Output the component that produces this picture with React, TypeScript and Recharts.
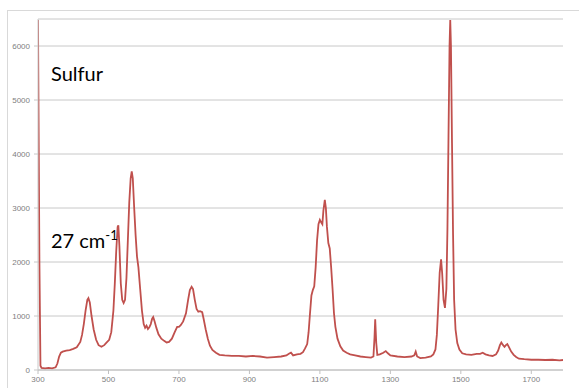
import React from "react";
import { LineChart, Line, XAxis, YAxis, CartesianGrid } from "recharts";

const wavenumbers = [
  300, 304, 307, 310, 320, 330, 340, 350, 355, 360, 365, 370, 380, 390, 400, 410, 420, 425, 430, 435, 440, 443, 447, 452, 458, 465, 472, 480, 488, 495,
  502, 508, 514, 518, 522, 526, 528, 531, 535, 539, 543, 547, 551, 555, 559, 563, 566, 569, 573, 577, 581, 585, 590, 595, 600, 604, 608, 612, 616, 620,
  624, 627, 631, 636, 642, 650, 658, 665, 672, 680, 688, 695, 700, 705, 712, 720, 726, 731, 736, 740, 745, 750, 755, 760, 766, 770, 776, 782, 788, 795,
  805, 815, 830, 850, 870, 890, 910, 930, 950, 970, 990, 1005, 1012, 1018, 1024, 1035, 1045, 1052, 1058, 1064, 1068, 1072, 1076, 1080, 1084, 1088, 1092,
  1096, 1100, 1104, 1107, 1110, 1114, 1117, 1120, 1124, 1128, 1132, 1136, 1140, 1144, 1150, 1158, 1166, 1176, 1186, 1200, 1215, 1230, 1245, 1252, 1255,
  1257, 1260, 1263, 1270, 1280, 1287, 1293, 1300, 1320, 1340, 1360, 1368, 1372, 1376, 1385, 1400, 1415, 1422, 1428, 1432, 1436, 1440, 1444, 1447, 1451,
  1455, 1459, 1462, 1465, 1468, 1470, 1472, 1475, 1478, 1481, 1485, 1490, 1496, 1504, 1515, 1530, 1545, 1555, 1562, 1570, 1580, 1590, 1600, 1606, 1611,
  1615, 1620, 1624, 1628, 1632, 1637, 1643, 1650, 1657, 1665, 1680, 1700, 1720, 1740, 1760, 1780, 1790,
];

const intensities = [
  6480, 2000, 80, 40, 30, 40, 30, 50, 120, 250, 320, 340, 360, 370, 390, 420, 520, 650, 850, 1100, 1300, 1330, 1250, 1000, 750, 560, 460, 430, 460, 510,
  560, 700, 1100, 1600, 2200, 2650, 2680, 2300, 1600, 1300, 1240, 1300, 1700, 2400, 3100, 3550, 3680, 3550, 3000, 2500, 2100, 1900, 1500, 1100, 850, 780, 820, 760, 790, 850,
  950, 980, 900, 780, 660, 580, 540, 510, 520, 580, 700, 800, 800, 830, 900, 1050, 1300, 1480, 1540, 1500, 1300, 1130, 1080, 1090, 1070, 950, 750, 580, 450, 370,
  320, 280, 270, 260, 260, 250, 260, 250, 230, 240, 250, 270, 300, 320, 270, 290, 300, 330, 400, 480, 700, 1050, 1380, 1480, 1550, 1900, 2400,
  2700, 2780, 2730, 2700, 2950, 3150, 3000, 2650, 2350, 2250, 1900, 1500, 1050, 800, 580, 440, 360, 320, 290, 270, 250, 240, 230, 250, 600,
  940, 500, 280, 290, 320, 350, 310, 270, 250, 240, 250, 270, 340, 250, 220, 230, 250, 290, 380, 650, 1200, 1800, 2050, 1800, 1300,
  1150, 1500, 2600, 4300, 6000, 6480, 6000, 4200, 2500, 1300, 750, 500, 380, 310, 290, 280, 300, 300, 320, 290, 270, 260, 290, 360, 460,
  510, 460, 430, 460, 480, 420, 340, 280, 240, 210, 200, 190, 190, 185, 190, 180, 185,
];

const xTicks = [300, 500, 700, 900, 1100, 1300, 1500, 1700];
const yTicks = [0, 1000, 2000, 3000, 4000, 5000, 6000];

const data = wavenumbers.map((x, i) => ({ x, y: intensities[i] }));

const tickStyle = { fontSize: 8, fill: "#808080", fontFamily: "Liberation Sans" };

export default function App() {
  return (
    <div style={{ position: "absolute", left: 0, top: 0, width: 579, height: 388, overflow: "hidden", background: "#fff" }}>
      <div
        style={{
          position: "absolute",
          left: 7,
          top: 10,
          width: 600,
          height: 400,
          border: "1px solid #d9d9d9",
          boxSizing: "border-box",
        }}
      />
      <div style={{ position: "absolute", left: 0, top: 0 }}>
        <LineChart width={579} height={388} data={data} margin={{ top: 19, right: 16, bottom: 0, left: 8 }}>
          <CartesianGrid vertical={false} stroke="#c8c8c8" strokeWidth={1} />
          <XAxis
            dataKey="x"
            type="number"
            domain={[300, 1790]}
            ticks={xTicks}
            allowDataOverflow
            height={18}
            tickSize={4}
            tickMargin={2}
            stroke="#c0c0c0"
            tick={tickStyle}
            interval={0}
          />
          <YAxis
            type="number"
            domain={[0, 6500]}
            ticks={yTicks}
            width={30}
            tickSize={4}
            tickMargin={4}
            stroke="#c8c8c8"
            tick={tickStyle}
            interval={0}
          />
          <Line
            type="linear"
            dataKey="y"
            stroke="#c0504d"
            strokeWidth={1.8}
            dot={false}
            isAnimationActive={false}
          />
        </LineChart>
      </div>
      <div style={{ position: "absolute", left: 51, top: 61, fontFamily: "Lato", fontSize: 20, color: "#000", lineHeight: "24px", whiteSpace: "nowrap" }}>
        Sulfur
      </div>
      <div style={{ position: "absolute", left: 51, top: 228, fontFamily: "Lato", fontSize: 20, color: "#000", lineHeight: "24px", whiteSpace: "nowrap" }}>
        27 cm<sup style={{ fontSize: 13, verticalAlign: "8px", lineHeight: 0 }}>-1</sup>
      </div>
    </div>
  );
}
